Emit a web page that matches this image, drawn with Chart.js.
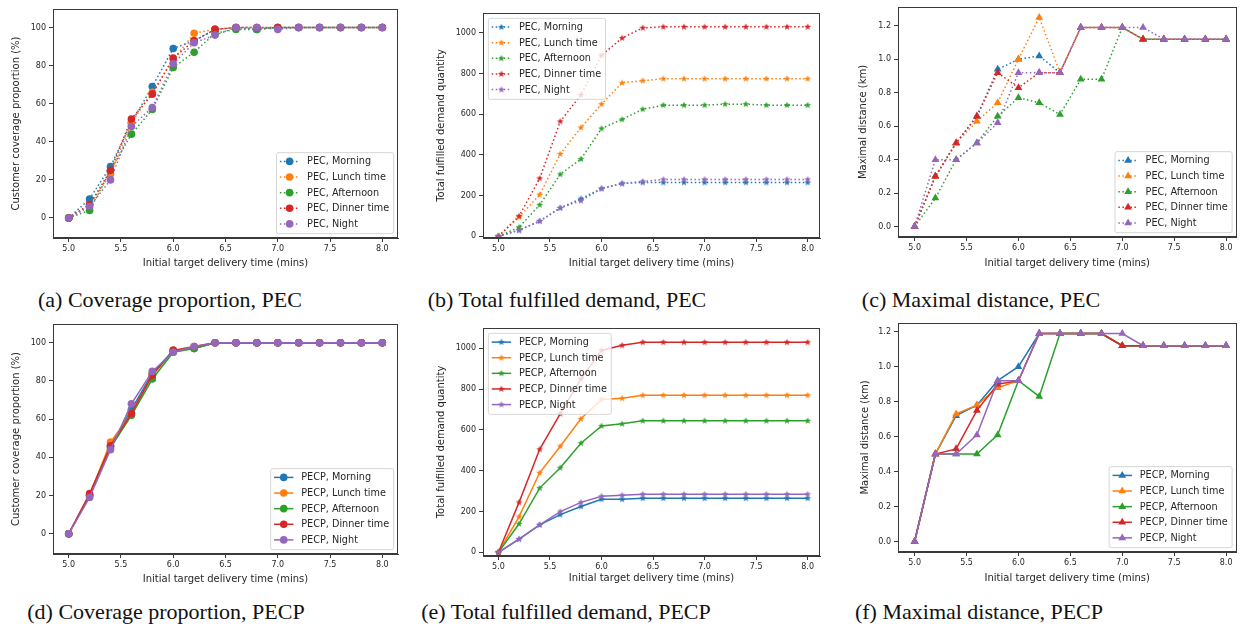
<!DOCTYPE html>
<html>
<head>
<meta charset="utf-8">
<script src="https://cdn.jsdelivr.net/npm/chart.js@4.4.1/dist/chart.umd.min.js"></script>
<style>
  html, body { margin: 0; padding: 0; background: #fff; }
  #fig { position: relative; width: 1241px; height: 632px; overflow: hidden; background: #fff; }
  #fig canvas { position: absolute; }
  .cap {
    position: absolute; white-space: nowrap; transform: translateX(-50%);
    font-family: "Liberation Serif", "Times New Roman", serif; font-size: 22px; line-height: 1; color: #111;
  }
</style>
</head>
<body>
<div id="fig">
  <canvas id="pa"></canvas>
  <canvas id="pb"></canvas>
  <canvas id="pc"></canvas>
  <canvas id="pd"></canvas>
  <canvas id="pe"></canvas>
  <canvas id="pf"></canvas>
  <div class="cap" style="left:170px;top:289px">(a) Coverage proportion, PEC</div>
  <div class="cap" style="left:567px;top:289px">(b) Total fulfilled demand, PEC</div>
  <div class="cap" style="left:981px;top:289px">(c) Maximal distance, PEC</div>
  <div class="cap" style="left:166px;top:601px">(d) Coverage proportion, PECP</div>
  <div class="cap" style="left:566px;top:601px">(e) Total fulfilled demand, PECP</div>
  <div class="cap" style="left:979px;top:601px">(f) Maximal distance, PECP</div>
</div>
<script>
// x values shared by every panel
const delivery = [5.0, 5.2, 5.4, 5.6, 5.8, 6.0, 6.2, 6.4, 6.6, 6.8, 7.0, 7.2, 7.4, 7.6, 7.8, 8.0];
const periods = ['Morning', 'Lunch time', 'Afternoon', 'Dinner time', 'Night'];
const periodColors = ['#1f77b4', '#ff7f0e', '#2ca02c', '#d62728', '#9467bd'];

// tick labels
const deliveryTicks = [5.0, 5.5, 6.0, 6.5, 7.0, 7.5, 8.0];
const coverageTicks = [0, 20, 40, 60, 80, 100];
const demandTicks = [0, 200, 400, 600, 800, 1000];
const distanceTicks = [0.0, 0.2, 0.4, 0.6, 0.8, 1.0, 1.2];

// rows follow `periods`
const pecCoverage = [
  [0, 10, 27, 50, 69, 89, 93, 99, 100, 99, 100, 100, 100, 100, 100, 100],
  [0, 7, 23, 50, 66, 83, 97, 99, 100, 100, 100, 100, 100, 100, 100, 100],
  [0, 4, 25, 44, 57, 79, 87, 97, 99, 99, 100, 100, 100, 100, 100, 100],
  [0, 7, 25, 52, 65, 84, 93, 99, 100, 100, 100, 100, 100, 100, 100, 100],
  [0, 6, 20, 48, 58, 81, 92, 96, 100, 100, 99, 100, 100, 100, 100, 100]
];
const pecDemand = [
  [0, 30, 75, 140, 185, 235, 260, 265, 265, 265, 265, 265, 265, 265, 265, 265],
  [0, 95, 205, 405, 535, 650, 755, 765, 775, 775, 775, 775, 775, 775, 775, 775],
  [0, 45, 155, 305, 380, 530, 575, 625, 645, 645, 645, 650, 650, 645, 645, 645],
  [0, 100, 285, 565, 695, 890, 975, 1025, 1030, 1030, 1030, 1030, 1030, 1030, 1030, 1030],
  [0, 30, 75, 140, 175, 235, 260, 270, 280, 280, 280, 280, 280, 280, 280, 280]
];
const pecDistance = [
  [0, 0.30, 0.50, 0.66, 0.94, 1.00, 1.02, 0.92, 1.19, 1.19, 1.19, 1.12, 1.12, 1.12, 1.12, 1.12],
  [0, 0.30, 0.50, 0.63, 0.74, 1.00, 1.25, 0.92, 1.19, 1.19, 1.19, 1.12, 1.12, 1.12, 1.12, 1.12],
  [0, 0.17, 0.40, 0.50, 0.66, 0.77, 0.74, 0.67, 0.88, 0.88, 1.19, 1.12, 1.12, 1.12, 1.12, 1.12],
  [0, 0.30, 0.50, 0.66, 0.92, 0.83, 0.92, 0.92, 1.19, 1.19, 1.19, 1.12, 1.12, 1.12, 1.12, 1.12],
  [0, 0.40, 0.40, 0.50, 0.62, 0.92, 0.92, 0.92, 1.19, 1.19, 1.19, 1.19, 1.12, 1.12, 1.12, 1.12]
];
const pecpCoverage = [
  [0, 20, 46, 65, 84, 96, 97, 100, 100, 100, 100, 100, 100, 100, 100, 100],
  [0, 20, 48, 63, 83, 96, 97, 100, 100, 100, 100, 100, 100, 100, 100, 100],
  [0, 20, 45, 62, 81, 95, 97, 100, 100, 100, 100, 100, 100, 100, 100, 100],
  [0, 21, 46, 63, 83, 96, 98, 100, 100, 100, 100, 100, 100, 100, 100, 100],
  [0, 19, 44, 68, 85, 95, 98, 100, 100, 100, 100, 100, 100, 100, 100, 100]
];
const pecpDemand = [
  [0, 65, 135, 185, 225, 260, 260, 265, 265, 265, 265, 265, 265, 265, 265, 265],
  [0, 175, 390, 520, 655, 750, 755, 770, 770, 770, 770, 770, 770, 770, 770, 770],
  [0, 140, 315, 415, 535, 620, 630, 645, 645, 645, 645, 645, 645, 645, 645, 645],
  [0, 245, 505, 680, 850, 990, 1015, 1030, 1030, 1030, 1030, 1030, 1030, 1030, 1030, 1030],
  [0, 65, 135, 200, 245, 275, 280, 285, 285, 285, 285, 285, 285, 285, 285, 285]
];
const pecpDistance = [
  [0, 0.50, 0.72, 0.78, 0.92, 1.00, 1.19, 1.19, 1.19, 1.19, 1.12, 1.12, 1.12, 1.12, 1.12, 1.12],
  [0, 0.50, 0.73, 0.78, 0.88, 0.92, 1.19, 1.19, 1.19, 1.19, 1.12, 1.12, 1.12, 1.12, 1.12, 1.12],
  [0, 0.50, 0.50, 0.50, 0.61, 0.92, 0.83, 1.19, 1.19, 1.19, 1.12, 1.12, 1.12, 1.12, 1.12, 1.12],
  [0, 0.50, 0.53, 0.75, 0.90, 0.92, 1.19, 1.19, 1.19, 1.19, 1.12, 1.12, 1.12, 1.12, 1.12, 1.12],
  [0, 0.50, 0.50, 0.61, 0.92, 0.92, 1.19, 1.19, 1.19, 1.19, 1.19, 1.12, 1.12, 1.12, 1.12, 1.12]
];

const AXIS_COLOR = '#3a3a3a';
const TEXT_COLOR = '#262626';
const FONT = '"DejaVu Sans", Verdana, sans-serif';

// small filled five-point star, used as a point image
function starImage(color, r) {
  const c = document.createElement('canvas');
  const s = Math.ceil(r * 2 + 2);
  c.width = c.height = s;
  const g = c.getContext('2d');
  g.fillStyle = color;
  g.beginPath();
  for (let k = 0; k < 10; k++) {
    const rr = k % 2 ? r * 0.42 : r;
    const a = k * Math.PI / 5;
    g.lineTo(s / 2 + Math.sin(a) * rr, s / 2 - Math.cos(a) * rr);
  }
  g.closePath();
  g.fill();
  return c;
}

function drawMarker(ctx, style, x, y, r, color) {
  if (style instanceof HTMLCanvasElement) {
    ctx.drawImage(style, x - style.width / 2, y - style.height / 2);
    return;
  }
  ctx.fillStyle = color;
  ctx.beginPath();
  if (style === 'circle') {
    ctx.arc(x, y, r, 0, Math.PI * 2);
  } else {
    for (let k = 0; k < 3; k++) {
      const a = k * 2 * Math.PI / 3;
      ctx[k ? 'lineTo' : 'moveTo'](x + Math.sin(a) * r, y - Math.cos(a) * r);
    }
    ctx.closePath();
  }
  ctx.fill();
}

// axes frame + matplotlib style legend box
Chart.register({
  id: 'boxLegend',
  afterDatasetsDraw(chart, args, opts) {
    const ctx = chart.ctx;
    const area = chart.chartArea;
    ctx.save();
    ctx.strokeStyle = AXIS_COLOR;
    ctx.lineWidth = 1;
    ctx.strokeRect(Math.round(area.left) + 0.5, Math.round(area.top) + 0.5,
      Math.round(area.right - area.left) - 1, Math.round(area.bottom - area.top) - 1);

    const fs = 9.7;
    ctx.font = fs + 'px ' + FONT;
    const sets = chart.data.datasets;
    const tw = Math.max(...sets.map(d => ctx.measureText(d.label).width));
    const pad = 0.4 * fs, hl = 2 * fs, htp = 0.8 * fs, rowH = 1.11 * fs, sp = 0.5 * fs, gap = 0.5 * fs;
    const w = pad + hl + htp + tw + pad;
    const h = 2 * pad + sets.length * rowH + (sets.length - 1) * sp;
    let x0, y0;
    if (opts.loc === 'upper left') {
      x0 = area.left + gap; y0 = area.top + gap;
    } else {
      x0 = area.right - gap - w; y0 = area.bottom - gap - h;
    }
    ctx.beginPath();
    ctx.roundRect(x0 + 0.5, y0 + 0.5, w, h, 2);
    ctx.fillStyle = 'rgba(255,255,255,0.8)';
    ctx.fill();
    ctx.strokeStyle = 'rgba(204,204,204,0.8)';
    ctx.lineWidth = 1;
    ctx.stroke();

    sets.forEach((d, i) => {
      const cy = y0 + pad + rowH / 2 + i * (rowH + sp);
      const hx = x0 + pad;
      ctx.strokeStyle = d.borderColor;
      ctx.lineWidth = d.borderWidth;
      ctx.setLineDash(d.borderDash || []);
      ctx.beginPath();
      ctx.moveTo(hx, cy);
      ctx.lineTo(hx + hl, cy);
      ctx.stroke();
      ctx.setLineDash([]);
      drawMarker(ctx, d.pointStyle, hx + hl / 2, cy, d.pointRadius, d.pointBackgroundColor);
      ctx.fillStyle = TEXT_COLOR;
      ctx.textBaseline = 'middle';
      ctx.textAlign = 'left';
      ctx.fillText(d.label, hx + hl + htp, cy + 0.5);
    });
    ctx.restore();
  }
});

const panels = [
  { id: 'pa', scheme: 'PEC', values: pecCoverage, marker: 'circle', size: 3.8, dotted: true,
    yTicks: coverageTicks, yMin: -10.5, yMax: 109.7, xMin: 4.85, xMax: 8.15, digits: 0,
    yTitle: 'Customer coverage proportion (%)', legend: 'lower right',
    box: [0, -5, 410, 280], plot: [53, 9, 398, 238], yTitleX: 16.7, xTitleY: 263 },
  { id: 'pb', scheme: 'PEC', values: pecDemand, marker: 'star', size: 3.6, dotted: true,
    yTicks: demandTicks, yMin: -8, yMax: 1098, xMin: 4.85, xMax: 8.12, digits: 0,
    yTitle: 'Total fulfilled demand quantity', legend: 'upper left',
    box: [410, -5, 420, 280], plot: [483, 13, 820, 238], yTitleX: 441, xTitleY: 263.3 },
  { id: 'pc', scheme: 'PEC', values: pecDistance, marker: 'triangle', size: 4.5, dotted: true,
    yTicks: distanceTicks, yMin: -0.0625, yMax: 1.3125, xMin: 4.84, xMax: 8.1, digits: 1,
    yTitle: 'Maximal distance (km)', legend: 'lower right',
    box: [830, -5, 411, 280], plot: [898, 7, 1240, 237], yTitleX: 863, xTitleY: 263.3 },
  { id: 'pd', scheme: 'PECP', values: pecpCoverage, marker: 'circle', size: 3.8, dotted: false,
    yTicks: coverageTicks, yMin: -10.6, yMax: 109.8, xMin: 4.85, xMax: 8.15, digits: 0,
    yTitle: 'Customer coverage proportion (%)', legend: 'lower right',
    box: [0, 315, 410, 275], plot: [53, 324, 398, 554], yTitleX: 16.7, xTitleY: 579.3 },
  { id: 'pe', scheme: 'PECP', values: pecpDemand, marker: 'star', size: 3.6, dotted: false,
    yTicks: demandTicks, yMin: -18, yMax: 1100, xMin: 4.85, xMax: 8.12, digits: 0,
    yTitle: 'Total fulfilled demand quantity', legend: 'upper left',
    box: [410, 315, 420, 275], plot: [483, 328, 820, 556], yTitleX: 441, xTitleY: 578.3 },
  { id: 'pf', scheme: 'PECP', values: pecpDistance, marker: 'triangle', size: 4.5, dotted: false,
    yTicks: distanceTicks, yMin: -0.06, yMax: 1.25, xMin: 4.84, xMax: 8.1, digits: 1,
    yTitle: 'Maximal distance (km)', legend: 'lower right',
    box: [830, 315, 411, 275], plot: [898, 323, 1240, 552], yTitleX: 865.7, xTitleY: 578.3 }
];

function buildPanel(p) {
  const [cl, ct, cw, ch] = p.box;
  const [pl, pt, pr, pb] = p.plot;
  const canvas = document.getElementById(p.id);
  canvas.width = cw;
  canvas.height = ch;
  canvas.style.left = cl + 'px';
  canvas.style.top = ct + 'px';

  const yW = pl - cl;
  const xH = p.xTitleY + 6 - pb;

  const datasets = p.values.map((row, i) => {
    const color = periodColors[i];
    const style = p.marker === 'star' ? starImage(color, p.size) : p.marker;
    return {
      label: p.scheme + ', ' + periods[i],
      data: row.map((v, j) => ({ x: delivery[j], y: v })),
      borderColor: color,
      backgroundColor: color,
      borderWidth: 1.5,
      borderDash: p.dotted ? [1.5, 2.5] : [],
      pointStyle: style,
      pointRadius: p.size,
      pointBackgroundColor: color,
      pointBorderColor: color,
      pointBorderWidth: 0,
      tension: 0,
      order: p.values.length - i
    };
  });

  const fixedTicks = list => s => { s.ticks = list.map(v => ({ value: v })); };
  const tickFont = { family: FONT, size: 8 };
  const titleFont = { family: FONT, size: 10 };

  new Chart(canvas, {
    type: 'line',
    data: { datasets },
    options: {
      responsive: false,
      animation: false,
      devicePixelRatio: 1,
      layout: { padding: { left: 0, top: pt - ct, right: cl + cw - pr, bottom: ct + ch - pb - xH } },
      plugins: {
        legend: { display: false },
        tooltip: { enabled: false },
        boxLegend: { loc: p.legend }
      },
      scales: {
        x: {
          type: 'linear',
          min: p.xMin,
          max: p.xMax,
          afterBuildTicks: fixedTicks(deliveryTicks),
          afterFit: s => { s.height = xH; },
          ticks: { autoSkip: false, maxRotation: 0, padding: 2, color: TEXT_COLOR, font: tickFont,
            callback: v => Number(v).toFixed(1) },
          grid: { drawOnChartArea: false, drawTicks: true, tickLength: 4, color: AXIS_COLOR },
          border: { display: true, color: AXIS_COLOR },
          title: { display: true, text: 'Initial target delivery time (mins)', color: TEXT_COLOR,
            font: titleFont, padding: { top: 0, bottom: 0 } }
        },
        y: {
          min: p.yMin,
          max: p.yMax,
          afterBuildTicks: fixedTicks(p.yTicks),
          afterFit: s => { s.width = yW; },
          ticks: { autoSkip: false, padding: 3, color: TEXT_COLOR, font: tickFont,
            callback: v => Number(v).toFixed(p.digits) },
          grid: { drawOnChartArea: false, drawTicks: true, tickLength: 4, color: AXIS_COLOR },
          border: { display: true, color: AXIS_COLOR },
          title: { display: true, text: p.yTitle, color: TEXT_COLOR, font: titleFont,
            padding: { top: p.yTitleX - cl - 6, bottom: 0 } }
        }
      }
    }
  });
}

panels.forEach(buildPanel);
</script>
</body>
</html>
